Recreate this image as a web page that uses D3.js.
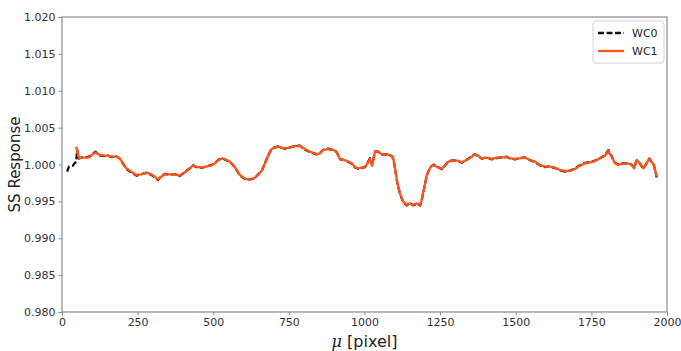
<!DOCTYPE html>
<html><head><meta charset="utf-8">
<script src="https://cdn.jsdelivr.net/npm/d3@7"></script>
<style>body{margin:0;background:#fff}svg{display:block}</style>
</head><body>
<svg id="chart" width="681" height="351"></svg>
<script>
const xTicks = [0,250,500,750,1000,1250,1500,1750,2000];
const yTicks = [0.980,0.985,0.990,0.995,1.000,1.005,1.010,1.015,1.020];
const seriesNames = ["WC0","WC1"];

const wc1X = [47,56,64,86,97,110,125,141,152,163,180,191,202,213,229,246,262,279,295,306,317,328,340,356,373,389,406,422,433,444,461,477,494,506,517,531,544,555,566,578,588,599,611,627,638,649,660,671,682,693,704,715,726,737,754,770,787,798,809,825,842,853,864,880,897,908,919,930,941,958,969,980,991,1002,1007,1018,1025,1035,1046,1057,1073,1090,1095,1101,1108,1117,1128,1140,1150,1161,1172,1184,1189,1197,1206,1217,1228,1239,1255,1266,1277,1294,1310,1321,1338,1354,1365,1376,1387,1404,1420,1437,1454,1470,1481,1498,1514,1531,1547,1564,1580,1597,1613,1630,1646,1663,1679,1696,1712,1729,1746,1762,1779,1795,1806,1817,1828,1839,1856,1872,1883,1891,1900,1911,1922,1933,1942,1950,1957,1966];
const wc1Y = [1.00241,1.00084,1.00092,1.00092,1.00119,1.00165,1.00129,1.00119,1.00119,1.00106,1.00106,1.00084,1.00016,0.99948,0.99902,0.99858,0.99867,0.99889,0.99867,0.99835,0.99799,0.99835,0.99867,0.99867,0.99867,0.99848,0.99894,0.99948,0.99984,0.99970,0.99957,0.99970,0.99993,1.00016,1.00061,1.00084,1.00061,1.00038,0.99993,0.99925,0.99858,0.99821,0.99799,0.99799,0.99821,0.99867,0.99912,1.00016,1.00129,1.00210,1.00228,1.00241,1.00228,1.00220,1.00228,1.00251,1.00251,1.00220,1.00197,1.00165,1.00142,1.00152,1.00197,1.00210,1.00197,1.00174,1.00075,1.00061,1.00052,1.00016,0.99962,0.99948,0.99957,0.99970,0.99993,1.00075,0.99984,1.00183,1.00174,1.00138,1.00138,1.00119,1.00084,0.99948,0.99767,0.99610,0.99496,0.99451,0.99474,0.99451,0.99474,0.99451,0.99519,0.99678,0.99858,0.99957,0.99993,0.99970,0.99939,0.99984,1.00038,1.00052,1.00052,1.00030,1.00061,1.00106,1.00138,1.00119,1.00084,1.00092,1.00075,1.00092,1.00092,1.00106,1.00084,1.00075,1.00084,1.00092,1.00061,1.00038,0.99993,0.99970,0.99970,0.99957,0.99925,0.99912,0.99912,0.99939,0.99984,1.00016,1.00030,1.00047,1.00084,1.00119,1.00183,1.00106,1.00016,0.99993,1.00016,1.00016,0.99993,0.99948,1.00061,1.00016,0.99948,1.00016,1.00084,1.00030,0.99993,0.99835];

const wc0X = [17,23,36,42,47,50,56,64,86,97,110,125,141,152,163,180,191,202,213,229,246,262,279,295,306,317,328,340,356,373,389,406,422,433,444,461,477,494,506,517,531,544,555,566,578,588,599,611,627,638,649,660,671,682,693,704,715,726,737,754,770,787,798,809,825,842,853,864,880,897,908,919,930,941,958,969,980,991,1002,1007,1018,1025,1035,1046,1057,1073,1090,1095,1101,1108,1117,1128,1140,1150,1161,1172,1184,1189,1197,1206,1217,1228,1239,1255,1266,1277,1294,1310,1321,1338,1354,1365,1376,1387,1404,1420,1437,1454,1470,1481,1498,1514,1531,1547,1564,1580,1597,1613,1630,1646,1663,1679,1696,1712,1729,1746,1762,1779,1795,1806,1817,1828,1839,1856,1872,1883,1891,1900,1911,1922,1933,1942,1950,1957,1966];
const wc0Y = [0.99902,0.99970,0.99984,1.00020,1.00038,1.00200,1.00080,1.00095,1.00100,1.00125,1.00175,1.00125,1.00115,1.00122,1.00100,1.00110,1.00080,1.00010,0.99940,0.99895,0.99850,0.99870,0.99885,0.99860,0.99830,0.99790,0.99838,0.99872,0.99862,0.99870,0.99842,0.99898,0.99945,0.99988,0.99965,0.99955,0.99975,0.99990,1.00020,1.00065,1.00080,1.00058,1.00035,0.99990,0.99920,0.99852,0.99818,0.99795,0.99802,0.99818,0.99870,0.99910,1.00020,1.00125,1.00215,1.00232,1.00245,1.00225,1.00215,1.00232,1.00248,1.00255,1.00215,1.00190,1.00160,1.00138,1.00155,1.00200,1.00215,1.00195,1.00170,1.00070,1.00065,1.00048,1.00010,0.99958,0.99942,0.99955,0.99965,0.99998,1.00085,0.99995,1.00180,1.00170,1.00135,1.00140,1.00115,1.00080,0.99945,0.99762,0.99605,0.99490,0.99445,0.99480,0.99445,0.99470,0.99445,0.99515,0.99672,0.99852,0.99962,0.99998,0.99975,0.99935,0.99988,1.00045,1.00055,1.00048,1.00025,1.00065,1.00110,1.00140,1.00115,1.00080,1.00098,1.00070,1.00088,1.00095,1.00102,1.00080,1.00070,1.00088,1.00095,1.00058,1.00032,0.99988,0.99965,0.99975,0.99952,0.99920,0.99905,0.99918,0.99945,0.99990,1.00022,1.00035,1.00052,1.00088,1.00125,1.00195,1.00110,1.00020,1.00000,1.00020,1.00010,0.99998,0.99955,1.00055,1.00010,0.99942,1.00022,1.00078,1.00025,0.99988,0.99825];

const colors = ["#111111","#ff5419"];

const svg = d3.select("#chart");
const m = {left:62, right:14, top:17, bottom:39};
const W = 681, H = 351;
const x = d3.scaleLinear().domain([0,2000]).range([m.left, W-m.right]);
const y = d3.scaleLinear().domain([0.980,1.020]).range([H-m.bottom, m.top]);

const font = "'DejaVu Sans', sans-serif";

// frame
svg.append("rect").attr("x",x(0)).attr("y",y(1.02)).attr("width",x(2000)-x(0)).attr("height",y(0.98)-y(1.02))
  .attr("fill","none").attr("stroke","#8c8c8c").attr("stroke-width",1.2);

const xAxis = svg.append("g").attr("transform",`translate(0,${y(0.98)})`)
  .call(d3.axisBottom(x).tickValues(xTicks).tickFormat(d3.format("d")).tickSize(3.5).tickPadding(3));
const yAxis = svg.append("g").attr("transform",`translate(${x(0)},0)`)
  .call(d3.axisLeft(y).tickValues(yTicks).tickFormat(d3.format(".3f")).tickSize(3.5).tickPadding(3));
[xAxis,yAxis].forEach(g=>{
  g.select(".domain").remove();
  g.selectAll("line").attr("stroke","#8c8c8c").attr("stroke-width",1);
  g.selectAll("text").attr("fill","#333").style("font-family",font).style("font-size","11px");
});

const line = d3.line().x(d=>x(d[0])).y(d=>y(d[1]));
const wc0 = wc0X.map((v,i)=>[v,wc0Y[i]]);
const wc1 = wc1X.map((v,i)=>[v,wc1Y[i]]);

svg.append("path").datum(wc0).attr("d",line).attr("fill","none").attr("stroke",colors[0])
  .attr("stroke-width",2.3).attr("stroke-dasharray","6,2.5").attr("stroke-linejoin","round");
svg.append("path").datum(wc1).attr("d",line).attr("fill","none").attr("stroke",colors[1])
  .attr("stroke-width",2.3).attr("stroke-linejoin","round");

// axis labels
svg.append("text").attr("transform",`translate(20,${(y(0.98)+y(1.02))/2}) rotate(-90)`)
  .attr("text-anchor","middle").style("font-family",font).style("font-size","15px").attr("fill","#222")
  .text("SS Response");
const xl = svg.append("text").attr("x",(x(0)+x(2000))/2).attr("y",347).attr("text-anchor","middle")
  .style("font-family",font).style("font-size","16px").attr("fill","#222");
xl.append("tspan").style("font-family","'DejaVu Serif', serif").style("font-style","italic").text("μ");
xl.append("tspan").text(" [pixel]");

// legend
const lg = svg.append("g");
lg.append("rect").attr("x",593).attr("y",21).attr("width",71).attr("height",42).attr("rx",3)
  .attr("fill","#fff").attr("stroke","#d5d5d5").attr("stroke-width",1);
seriesNames.forEach((n,i)=>{
  const yy = 33 + i*18;
  lg.append("line").attr("x1",598).attr("x2",624).attr("y1",yy).attr("y2",yy)
    .attr("stroke",colors[i]).attr("stroke-width",2.3).attr("stroke-dasharray", i===0?"6,2.5":null);
  lg.append("text").attr("x",632).attr("y",yy+4).style("font-family",font).style("font-size","11px")
    .attr("fill","#222").text(n);
});
</script>
</body></html>
